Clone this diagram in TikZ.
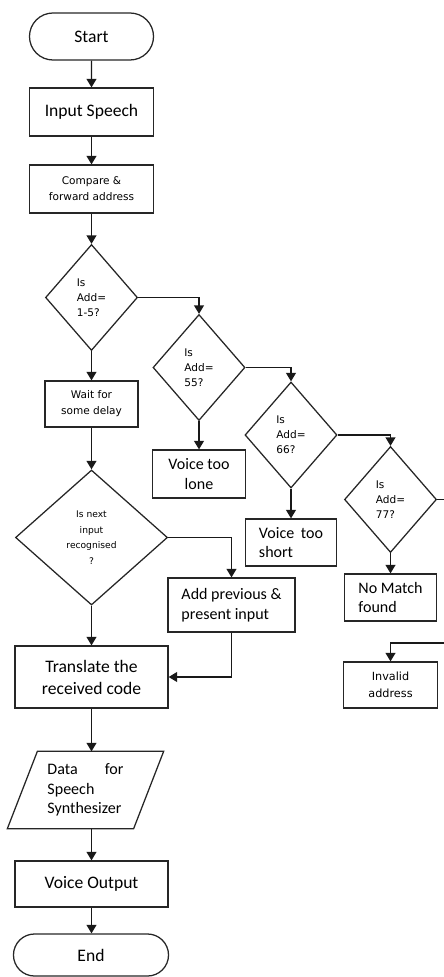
\documentclass[tikz,border=0pt]{standalone}
\usepackage{fontspec}
\setmainfont{Carlito}
\newfontfamily\smallfont{DejaVu Sans}
\usetikzlibrary{shapes.geometric,shapes.misc,arrows.meta}

\tikzset{
  box/.style={draw=black!85, line width=0.9pt, rectangle, inner sep=0pt, font=\fontsize{11.4}{13.9}\selectfont},
  bigbox/.style={box, font=\fontsize{12.5}{15.6}\selectfont},
  term/.style={draw=black!85, line width=0.9pt, rounded rectangle, inner sep=0pt, font=\fontsize{12.5}{15}\selectfont},
  decide/.style={draw=black!85, line width=0.9pt, diamond, inner sep=0pt, minimum width=2.3cm, minimum height=2.65cm, align=left, font=\smallfont\fontsize{7.5}{10.7}\selectfont},
  smalltext/.style={font=\smallfont\fontsize{7.5}{11.5}\selectfont},
  line/.style={draw=black!90, line width=0.9pt, -{Triangle[length=6pt,width=7pt]}},
}

\begin{document}
\begin{tikzpicture}[x=0.025cm, y=-0.025cm]
\useasboundingbox (0,0) rectangle (444,977);

\node[term, minimum width=3.1cm, minimum height=1.175cm] (start) at (91.5,36.5) {Start};
\node[bigbox, minimum width=3.1cm, minimum height=1.2cm] (inp) at (91.5,112) {Input Speech};
\node[box, smalltext, align=center, minimum width=3.1cm, minimum height=1.2cm] (cmp) at (91.5,189) {Compare \&\\forward address};

\node[decide] (d1) at (91.5,297.5) {Is\\Add=\\1-5?};
\node[decide] (d2) at (199,367.5) {Is\\Add=\\55?};
\node[decide] (d3) at (291,435) {Is\\Add=\\66?};
\node[decide] (d4) at (390.5,499.5) {Is\\Add=\\77?};

\node[box, smalltext, align=center, minimum width=2.325cm, minimum height=1.15cm] (wait) at (91.5,404) {Wait for\\some delay};
\node[box, align=center, minimum width=2.325cm, minimum height=1.2cm] (lone) at (199,474) {Voice too\\lone};
\node[box, text width=1.6cm, align=left, minimum width=2.275cm, minimum height=1.175cm] (short) at (291,542.5) {Voice\hfill too\\short};
\node[box, align=left, minimum width=2.3cm, minimum height=1.175cm] (nomatch) at (390.5,597.5) {No Match\\found};
\node[box, smalltext, font=\smallfont\fontsize{8}{12}\selectfont, align=center, minimum width=2.35cm, minimum height=1.15cm] (invalid) at (390.5,685) {Invalid\\address};

\node[decide, align=center, minimum width=3.8cm, minimum height=3.375cm, font=\smallfont\fontsize{6.5}{11}\selectfont] (d5) at (91.5,537.5) {Is next\\input\\recognised\\?};
\node[box, align=left, minimum width=3.175cm, minimum height=1.35cm] (addp) at (231.5,605) {Add previous \&\\present input};
\node[bigbox, align=center, minimum width=3.825cm, minimum height=1.55cm] (trans) at (91.5,677) {Translate the\\received code};

\node[box, draw=none, text width=1.9cm, align=left, minimum width=3.875cm, minimum height=1.9cm] (data) at (85.5,790) {Data\hfill for\\Speech\\Synthesizer};
\draw[black!85, line width=0.9pt] ([xshift=0.75cm]data.north west) -- (data.north east) -- ([xshift=-0.75cm]data.south east) -- (data.south west) -- cycle;

\node[bigbox, minimum width=3.825cm, minimum height=1.15cm] (vout) at (91.5,884) {Voice Output};
\node[term, minimum width=3.875cm, minimum height=1.05cm] (end) at (91,955) {End};

\draw[line] (start) -- (inp);
\draw[line] (inp) -- (cmp);
\draw[line] (cmp) -- (d1);
\draw[line] (d1) -- (wait);
\draw[line] (wait) -- (d5);
\draw[line] (d5) -- (trans);
\draw[line] (trans) -- (trans.south |- data.north);
\draw[line] (vout.north |- data.south) -- (vout);
\draw[line] (vout) -- (end.north -| vout.south);

\draw[line] (d1.east) -| (d2.north);
\draw[line] (d2.east) -| (d3.north);
\draw[line] (d3.east) -| (d4.north);
\draw[line] (d2) -- (lone);
\draw[line] (d3) -- (short);
\draw[line] (d4) -- (nomatch);

\draw[line] (d5.east) -| (addp.north);
\draw[line] (addp.south) |- (trans.east);

\coordinate (edge) at (460,643);
\draw[line] (d4.east) -| (edge) -| (invalid.north);
\end{tikzpicture}
\end{document}
